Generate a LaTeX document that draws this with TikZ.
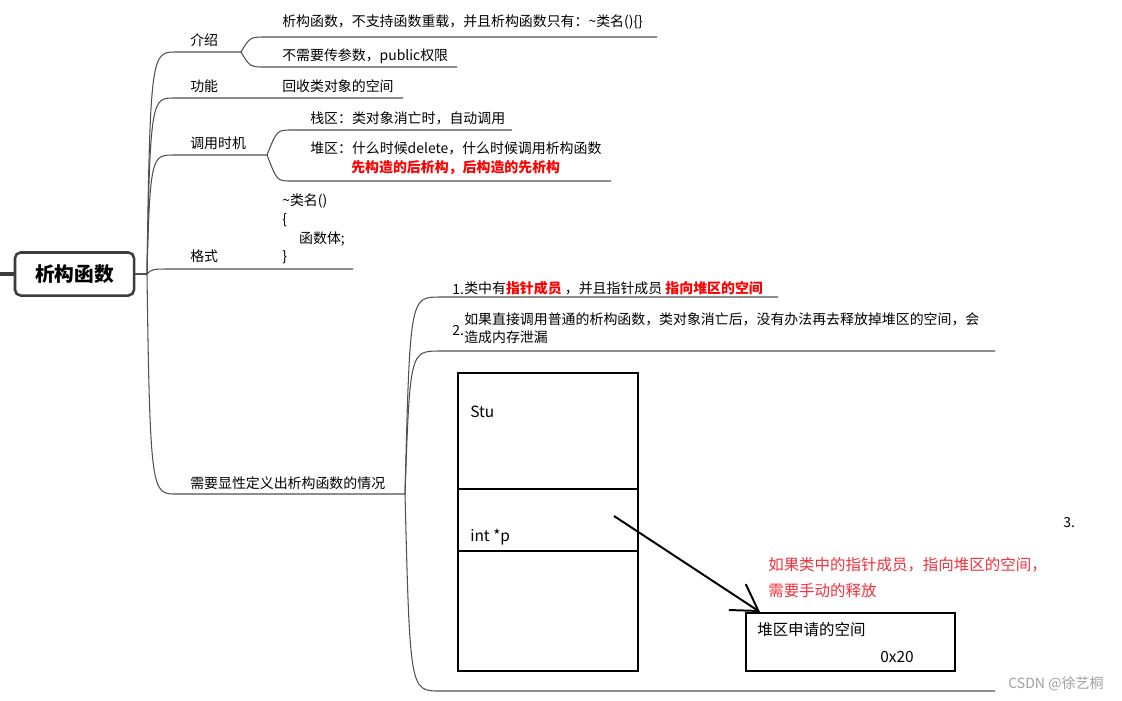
\documentclass[tikz,border=0pt]{standalone}
\usepackage{fontspec}
\setmainfont{Noto Sans CJK SC}
\usetikzlibrary{arrows.meta}
\definecolor{linegray}{HTML}{505050}
\definecolor{rootgray}{HTML}{3C3C3C}
\definecolor{keyred}{HTML}{FF0000}
\definecolor{notered}{HTML}{F0303C}
\definecolor{markgray}{HTML}{A0A0A0}
\newcommand{\redkey}[1]{{\bfseries\color{keyred}#1}}
\tikzset{
  topic/.style={anchor=west, inner sep=0pt, font=\fontsize{9.9}{12.8}\selectfont},
  branch/.style={draw=linegray, line width=0.75pt},
  cell/.style={draw=black, line width=1.8pt, minimum width=4.5cm, inner sep=0pt},
}

\begin{document}
\begin{tikzpicture}[x=0.025cm, y=-0.025cm,
  rootbox/.style={draw=rootgray, line width=1.8pt, rounded corners=4pt, fill=white,
                  minimum width=2.975cm, minimum height=1.075cm,
                  font=\fontsize{14}{16}\selectfont\bfseries},
  heapbox/.style={draw=black, line width=1.6pt, minimum width=5.225cm, minimum height=1.45cm},
  pointer/.style={line width=1.4pt, -{Straight Barb[length=18pt, width=22pt, line width=1.4pt]}},
  big/.style={anchor=west, inner sep=0pt, align=left, font=\fontsize{11}{19}\selectfont}]

\useasboundingbox (0,0) rectangle (1122,700);

% ---- root ----
\coordinate (stub) at (0,274);
\node[rootbox] (root) at (74.5,274) {析构函数};
\coordinate (hub) at (147,274);
\draw[rootgray, line width=2.4pt] (stub) -- (root.west);
\draw[branch] (root.east) -- (hub);

% ---- 介绍 ----
\node[topic] (intro) at (190,40) {介绍};
\coordinate (introfork) at (241,52);
\draw[branch] (hub) .. controls (150,52) and (152,52) .. (176,52) -- (introfork);
\node[topic] (nooverload) at (282,22) {析构函数，不支持函数重载，并且析构函数只有：\textasciitilde{}类名()\{\}};
\node[topic] (noparam) at (282,56) {不需要传参数，public权限};
\coordinate (nooverloadend) at (657,37);
\coordinate (noparamend) at (457,67);
\draw[branch] (introfork) .. controls (250,37) .. (266,37) -- (nooverloadend);
\draw[branch] (introfork) .. controls (250,67) .. (266,67) -- (noparamend);

% ---- 功能 ----
\node[topic] (func) at (190,86) {功能};
\node[topic] (reclaim) at (282,86) {回收类对象的空间};
\coordinate (funcend) at (403,98);
\draw[branch] (hub) .. controls (150,98) and (152,98) .. (174,98) -- (funcend);

% ---- 调用时机 ----
\node[topic] (when) at (190,143) {调用时机};
\coordinate (whenfork) at (267,155);
\draw[branch] (hub) .. controls (150,155) and (152,155) .. (174,155) -- (whenfork);
\node[topic] (stack) at (310,118) {栈区：类对象消亡时，自动调用};
\node[topic] (heap) at (310,148) {堆区：什么时候delete，什么时候调用析构函数};
\node[topic] (order) at (351,168) {\redkey{先构造的后析构，后构造的先析构}};
\coordinate (stackend) at (512,130);
\coordinate (heapend) at (611,181);
\draw[branch] (whenfork) .. controls (277,130) .. (292,130) -- (stackend);
\draw[branch] (whenfork) .. controls (277,181) .. (292,181) -- (heapend);

% ---- 格式 ----
\node[topic] (fmt) at (190,256) {格式};
\node[topic, align=left, font=\fontsize{9.9}{13.3}\selectfont] (fmtcode) at (282,229)
  {\textasciitilde{}类名()\\\{\\\hspace*{12pt}函数体;\\\}};
\coordinate (fmtend) at (353,269);
\draw[branch] (hub) .. controls (152,269) .. (172,269) -- (fmtend);

% ---- 需要显性定义 ----
\node[topic] (need) at (190,483) {需要显性定义出析构函数的情况};
\coordinate (needfork) at (405,494);
\draw[branch] (hub) .. controls (150,494) and (152,494) .. (176,494) -- (needfork);
\node[topic] (num1) at (452,290) {1.};
\node[topic] (case1) at (464,288) {类中有\redkey{指针成员} ，并且指针成员 \redkey{指向堆区的空间}};
\node[topic] (num2) at (452,331) {2.};
\node[topic, align=left] (case2) at (464,328.5)
  {如果直接调用普通的析构函数，类对象消亡后，没有办法再去释放掉堆区的空间，会\\造成内存泄漏};
\node[topic] (num3) at (1063,523) {3.};
\coordinate (case1end) at (778,297);
\coordinate (case2end) at (995,351);
\coordinate (case3end) at (995,691);
\draw[branch] (needfork) .. controls (410,297) .. (440,297) -- (case1end);
\draw[branch] (needfork) .. controls (410,351) .. (440,351) -- (case2end);
\draw[branch] (needfork) .. controls (410,691) .. (440,691) -- (case3end);

% ---- memory sketch ----
\node[cell, minimum height=2.9cm] (stucell) at (548,431) {};
\node[cell, minimum height=1.55cm] (ptrcell) at (548,520) {};
\node[cell, minimum height=3cm] (restcell) at (548,611) {};
\node[big] (stulbl) at (470,412) {Stu};
\node[big] (ptrlbl) at (470,537) {int *p};
\node[heapbox] (heapspace) at (850.5,642) {};
\node[big] (heaplbl) at (757,630) {堆区申请的空间};
\node[big] (addr) at (880,657) {0x20};
\coordinate (ptrsrc) at (614,516);
\coordinate (ptrdst) at (760,612);
\draw[pointer] (ptrsrc) -- (ptrdst);
\node[big, text=notered] (freenote) at (768,577.5)
  {如果类中的指针成员，指向堆区的空间，\\需要手动的释放};

\node[anchor=west, inner sep=0pt, text=markgray, font=\fontsize{10}{12}\selectfont] (mark) at (1008,684) {CSDN @徐艺桐};

\end{tikzpicture}
\end{document}
